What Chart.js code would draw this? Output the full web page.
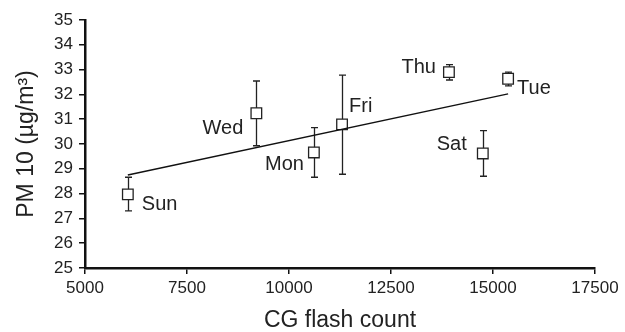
<!DOCTYPE html>
<html>
<head>
<meta charset="utf-8">
<script src="https://cdn.jsdelivr.net/npm/chart.js@4/dist/chart.umd.min.js"></script>
<style>
  html, body { margin: 0; padding: 0; background: #fff; }
  #wrap { width: 625px; height: 332px; position: relative; }
</style>
</head>
<body>
<div id="wrap"><canvas id="c"></canvas></div>
<script>
// ===== data =====
const days     = ['Sun', 'Wed', 'Mon', 'Fri', 'Thu', 'Tue', 'Sat']
const flashes  = [6050, 9200, 10610, 11300, 13920, 15370, 14750]
const pm10     = [27.97, 31.24, 29.66, 30.79, 32.90, 32.63, 29.62]
const errHigh  = [28.66, 32.54, 30.66, 32.78, 33.20, 32.90, 30.54]
const errLow   = [27.30, 29.93, 28.66, 28.78, 32.58, 32.34, 28.70]
const trendX   = [6050, 15370]
const trendY   = [28.75, 32.02]
const xTicks   = [5000, 7500, 10000, 12500, 15000, 17500]
const yTicks   = [25, 26, 27, 28, 29, 30, 31, 32, 33, 34, 35]

// label placement relative to marker: [dx, dy, align]
const labelPlace = {
  Sun: [14, 10, 'left'], Wed: [-13, 15, 'right'], Mon: [-10, 12, 'right'],
  Fri: [7, -18, 'left'], Thu: [-13, -5, 'right'], Tue: [9, 10, 'left'],
  Sat: [-16, -9, 'right']
}

const FONT = "'Liberation Sans', Arial, sans-serif"

// error bars + day labels
const extras = {
  id: 'extras',
  beforeDatasetsDraw(chart) {
    const { ctx, scales: { x, y } } = chart
    ctx.save()
    ctx.strokeStyle = '#222'
    ctx.lineWidth = 1.3
    flashes.forEach((f, i) => {
      const px = Math.round(x.getPixelForValue(f)) + 0.5
      const top = y.getPixelForValue(errHigh[i])
      const bot = y.getPixelForValue(errLow[i])
      ctx.beginPath()
      ctx.moveTo(px, top); ctx.lineTo(px, bot)
      ctx.moveTo(px - 3.5, top); ctx.lineTo(px + 3.5, top)
      ctx.moveTo(px - 3.5, bot); ctx.lineTo(px + 3.5, bot)
      ctx.stroke()
    })
    ctx.restore()
  },
  afterDatasetsDraw(chart) {
    const { ctx, scales: { x, y } } = chart
    ctx.save()
    ctx.fillStyle = '#222'
    ctx.font = '20px ' + FONT
    ctx.textBaseline = 'middle'
    days.forEach((d, i) => {
      const [dx, dy, align] = labelPlace[d]
      ctx.textAlign = align
      ctx.fillText(d, x.getPixelForValue(flashes[i]) + dx, y.getPixelForValue(pm10[i]) + dy)
    })
    ctx.restore()
  }
}

const axisCommon = {
  grid: { drawOnChartArea: false, drawTicks: true, tickLength: 6, color: '#111', lineWidth: 1.5 },
  border: { display: true, color: '#111', width: 2.5 },
  ticks: { color: '#222', font: { size: 17, family: FONT, lineHeight: 1 }, padding: 6, callback: v => String(v) }
}

new Chart(document.getElementById('c'), {
  type: 'scatter',
  data: {
    datasets: [{
      type: 'line',
      data: trendX.map((v, i) => ({ x: v, y: trendY[i] })),
      borderColor: '#111', borderWidth: 1.4, pointRadius: 0, fill: false
    }, {
      data: flashes.map((v, i) => ({ x: v, y: pm10[i] })),
      pointStyle: 'rect', pointRadius: 7.5,
      pointBackgroundColor: '#fff', pointBorderColor: '#222', pointBorderWidth: 1.3
    }]
  },
  options: {
    responsive: true, maintainAspectRatio: false, animation: false,
    layout: { padding: { top: 20, right: 30, left: 0, bottom: 0 } },
    plugins: { legend: { display: false }, tooltip: { enabled: false } },
    scales: {
      x: {
        ...axisCommon, type: 'linear', min: 5000, max: 17500,
        afterBuildTicks: s => { s.ticks = xTicks.map(v => ({ value: v })) },
        afterFit: s => { s.height = 64 },
        title: { display: true, text: 'CG flash count', color: '#222', font: { size: 23, family: FONT, lineHeight: 1 }, padding: { top: 0, bottom: 0 } }
      },
      y: {
        ...axisCommon, min: 25, max: 35,
        afterBuildTicks: s => { s.ticks = yTicks.map(v => ({ value: v })) },
        afterFit: s => { s.width = 85 },
        title: { display: true, text: 'PM 10 (µg/m³)', color: '#222', font: { size: 23, family: FONT, lineHeight: 1 }, padding: { top: 15, bottom: 0 } }
      }
    }
  },
  plugins: [extras]
})
</script>
</body>
</html>
